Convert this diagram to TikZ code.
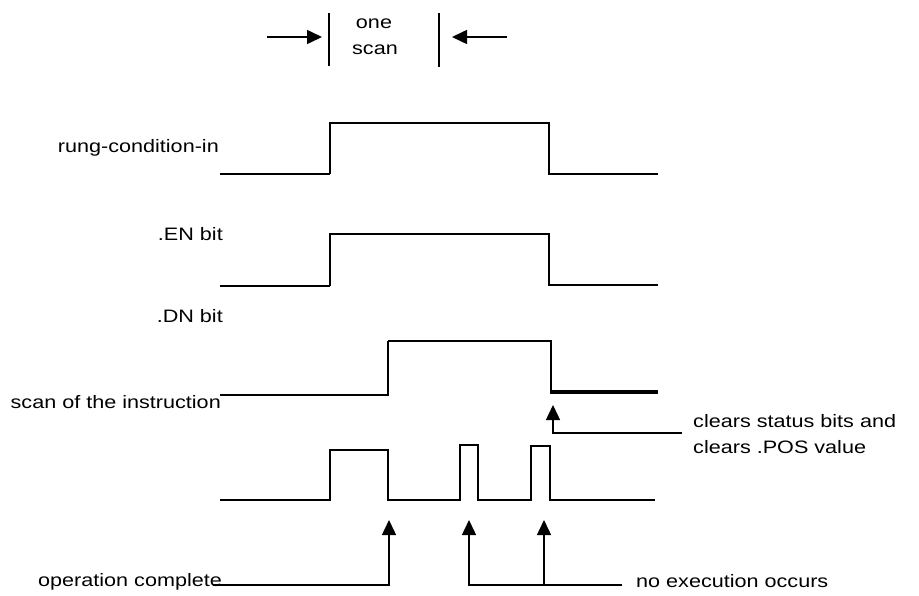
\documentclass[tikz,border=0pt]{standalone}
\usepackage{fontspec}
\setmainfont{Liberation Sans}[FakeStretch=1.2]
\usetikzlibrary{arrows.meta}
\begin{document}
\begin{tikzpicture}[x=1pt,y=-1pt,
  lbl/.style={inner sep=0pt, font=\fontsize{18}{22}\selectfont},
  wave/.style={line width=2.9pt, line join=miter},
  thinw/.style={line width=1.8pt},
  thickw/.style={line width=3.4pt},
  conn/.style={line width=1.5pt},
  tipped/.style={-{Triangle[length=15pt,width=14pt]}}]
\useasboundingbox[fill=white] (0,0) rectangle (919,595);

% one scan marker
\coordinate (lbarT) at (329,13);
\coordinate (lbarB) at (329,66);
\coordinate (rbarT) at (439,13);
\coordinate (rbarB) at (439,67);
\draw[line width=2.8pt] (lbarT) -- (lbarB);
\draw[line width=1.6pt] (rbarT) -- (rbarB);
\coordinate (larrS) at (267,37);
\coordinate (larrE) at (322,37);
\coordinate (rarrS) at (507,37);
\coordinate (rarrE) at (452,37);
\draw[conn,tipped] (larrS) -- (larrE);
\draw[conn,tipped] (rarrS) -- (rarrE);
\node[lbl,anchor=base] (one) at (374,28) {one};
\node[lbl,anchor=base] (scan) at (375,54) {scan};

% rung-condition-in
\node[lbl,anchor=base east] (rung) at (219,152) {rung-condition-in};
\draw[thinw] (220,174) -- (330,174);
\draw[wave] (330,174) -- (330,123) -- (549,123) -- (549,174) -- (658,174);

% .EN bit
\node[lbl,anchor=base east] (en) at (223,240) {.EN bit};
\draw[thinw] (220,286) -- (330,286);
\draw[wave] (330,286) -- (330,234) -- (549,234) -- (549,285) -- (658,285);

% .DN bit
\node[lbl,anchor=base east] (dn) at (223,322) {.DN bit};

% scan of the instruction
\node[lbl,anchor=base east] (scanof) at (221,408) {scan of the instruction};
\draw[thinw] (220,395) -- (388,395);
\draw[wave] (388,396) -- (388,341);
\draw[thinw] (388,341) -- (551,341) -- (551,392);
\draw[thickw] (550,392) -- (658,392);

% execution pulses
\draw[wave] (220,500) -- (330,500) -- (330,450) -- (388,450) -- (388,500)
  -- (460,500) -- (460,445) -- (478,445) -- (478,500)
  -- (531,500) -- (531,446) -- (550,446) -- (550,500) -- (655,500);

% clears status bits
\node[lbl,anchor=base west] (clr1) at (693,427) {clears status bits and};
\node[lbl,anchor=base west] (clr2) at (693,453) {clears .POS value};
\coordinate (clrEnd) at (682,433);
\coordinate (clrTip) at (553,405);
\draw[conn,tipped] (clrEnd) -- (clrTip |- clrEnd) -- (clrTip);

% operation complete
\node[lbl,anchor=base west] (opc) at (38,586) {operation complete};
\coordinate (opcStart) at (213,585);
\coordinate (opcTip) at (389,520);
\draw[conn,tipped] (opcStart) -- (opcTip |- opcStart) -- (opcTip);

% no execution occurs
\node[lbl,anchor=base west] (noe) at (636,587) {no execution occurs};
\coordinate (noeEnd) at (622,585);
\coordinate (tipA) at (469,520);
\coordinate (tipB) at (544,520);
\draw[conn,tipped] (noeEnd) -- (tipA |- noeEnd) -- (tipA);
\draw[conn,tipped] (tipB |- noeEnd) -- (tipB);
\end{tikzpicture}
\end{document}
